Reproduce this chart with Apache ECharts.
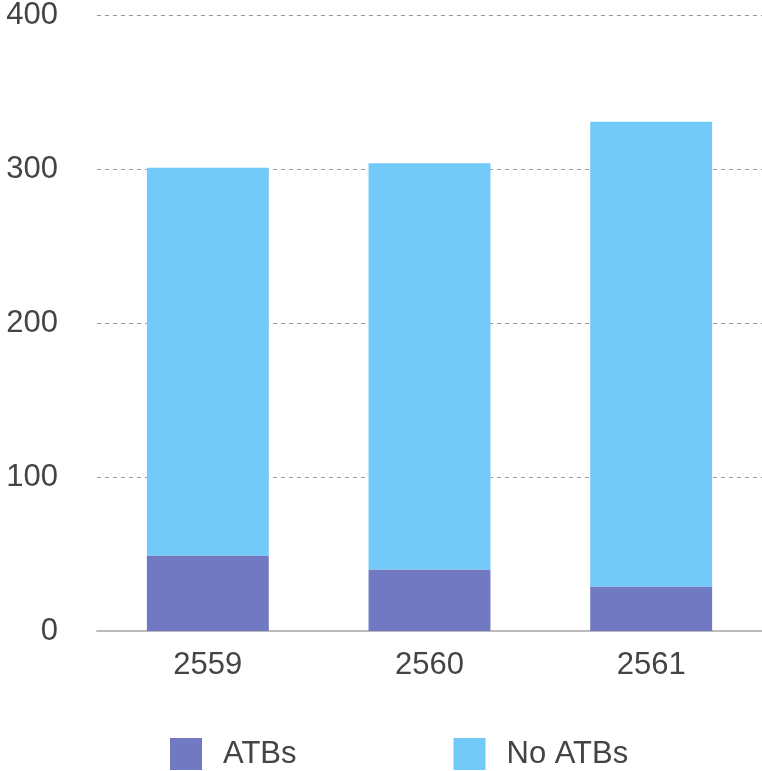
<!DOCTYPE html>
<html>
<head>
<meta charset="utf-8">
<script src="https://cdn.jsdelivr.net/npm/echarts@6/dist/echarts.min.js"></script>
<style>
  html, body { margin: 0; padding: 0; background: #fff; }
  #chart { width: 762px; height: 771px; }
</style>
</head>
<body>
<div id="chart"></div>
<script>
var years = ['2559', '2560', '2561'];
var atbs = [49, 40, 29];
var noAtbs = [252, 264, 302];
var yTicks = [0, 100, 200, 300, 400];

document.addEventListener('DOMContentLoaded', function () {
    var chart = echarts.init(document.getElementById('chart'));
    var font = 'Liberation Sans, Arial, sans-serif';
    chart.setOption({
        animation: false,
        grid: { left: 97, right: 0, top: 14, bottom: 140 },
        legend: {
            left: 170,
            top: 738,
            padding: 0,
            itemWidth: 32,
            itemHeight: 32,
            itemGap: 157,
            icon: 'rect',
            textStyle: { fontSize: 31, color: '#444', fontFamily: font, padding: [0, 0, 0, 16] },
            data: ['ATBs', 'No ATBs']
        },
        xAxis: {
            type: 'category',
            data: years,
            axisLine: { lineStyle: { color: '#bbb', width: 2 } },
            axisTick: { show: false },
            axisLabel: { fontSize: 31, color: '#444', fontFamily: font, margin: 19 }
        },
        yAxis: {
            type: 'value',
            min: yTicks[0],
            max: yTicks[yTicks.length - 1],
            interval: 100,
            axisLine: { show: false },
            axisTick: { show: false },
            axisLabel: { fontSize: 31, color: '#444', fontFamily: font, margin: 39 },
            splitLine: { lineStyle: { color: '#999', type: [4, 4], width: 1 } }
        },
        series: [
            {
                name: 'ATBs',
                type: 'bar',
                stack: 'total',
                data: atbs,
                barCategoryGap: '45%',
                itemStyle: { color: '#7079C2' }
            },
            {
                name: 'No ATBs',
                type: 'bar',
                stack: 'total',
                data: noAtbs,
                itemStyle: { color: '#72CAF8' }
            }
        ]
    });
});
</script>
</body>
</html>
